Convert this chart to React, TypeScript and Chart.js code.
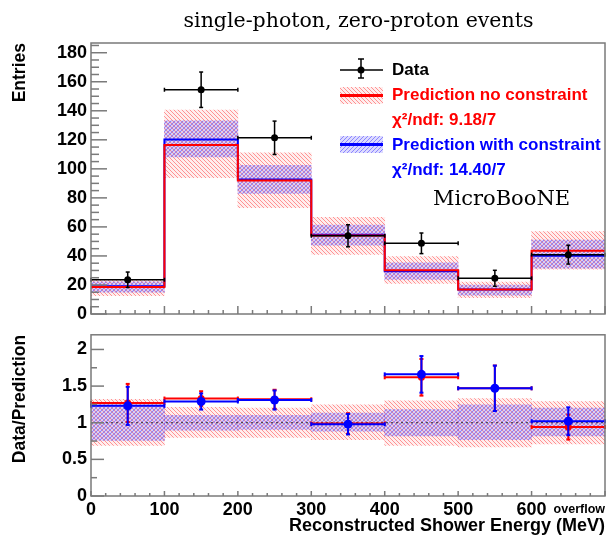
import React, { useEffect, useRef } from 'react';
import { Chart, registerables } from 'chart.js';
Chart.register(...registerables);

// ---------- data ----------
const binEdges = [0, 100, 200, 300, 400, 500, 600, 700];
const binCenters = [50, 150, 250, 350, 450, 550, 650];
const dataEntries = [23.6, 154.5, 121.4, 53.9, 48.7, 24.6, 40.9];
const dataErr = [5.3, 12.2, 11.5, 7.6, 7.1, 5.5, 6.5];
const predNoConstraint = [18.6, 116.5, 92.0, 54.0, 30.1, 16.9, 43.5];
const predWithConstraint = [19.2, 120.3, 92.7, 54.6, 29.4, 16.8, 40.2];
const noConstraintLow = [12.6, 93.9, 73.2, 41.0, 21.1, 11.2, 30.8];
const noConstraintHigh = [23.4, 140.5, 111.0, 66.6, 39.5, 22.0, 56.7];
const withConstraintLow = [15.0, 108.3, 83.1, 47.5, 23.9, 13.0, 31.5];
const withConstraintHigh = [22.2, 133.0, 102.4, 61.3, 35.3, 20.0, 51.0];

const ratioNoConstraint = [1.27, 1.33, 1.32, 0.99, 1.62, 1.47, 0.94];
const ratioNoConstraintErr = [0.26, 0.10, 0.13, 0.14, 0.25, 0.31, 0.17];
const ratioWithConstraint = [1.23, 1.29, 1.31, 0.98, 1.66, 1.47, 1.02];
const ratioWithConstraintErr = [0.26, 0.11, 0.13, 0.14, 0.25, 0.31, 0.19];
const ratioBandNoLow = [0.69, 0.80, 0.80, 0.77, 0.69, 0.67, 0.71];
const ratioBandNoHigh = [1.32, 1.21, 1.20, 1.245, 1.30, 1.33, 1.29];
const ratioBandWithLow = [0.76, 0.90, 0.91, 0.885, 0.82, 0.77, 0.82];
const ratioBandWithHigh = [1.245, 1.10, 1.10, 1.13, 1.18, 1.245, 1.20];

const titleText = 'single-photon, zero-proton events';
const legendData = 'Data';
const legendNo = 'Prediction no constraint';
const legendNoChi = 'χ²/ndf: 9.18/7';
const legendWith = 'Prediction with constraint';
const legendWithChi = 'χ²/ndf: 14.40/7';
const experimentLabel = 'MicroBooNE';
const xTitle = 'Reconstructed Shower Energy (MeV)';
const overflowLabel = 'overflow';

const SANS = '"Liberation Sans", Arial, sans-serif';
const SERIF = '"DejaVu Serif", serif';
const FRAME = '#7a7a7a';

function makeHatch(ctx: CanvasRenderingContext2D, base: string, lineColor: string, dir: number) {
  const c = document.createElement('canvas');
  c.width = 4; c.height = 4;
  const g = c.getContext('2d')!;
  g.fillStyle = base;
  g.fillRect(0, 0, 4, 4);
  g.fillStyle = lineColor;
  for (let i = 0; i < 4; i++) g.fillRect(dir === 1 ? i : 3 - i, i, 1, 1);
  return ctx.createPattern(c, 'repeat')!;
}

function stepPoints(vals: number[]) {
  const pts = vals.map((v, i) => ({ x: binEdges[i], y: v }));
  pts.push({ x: binEdges[binEdges.length - 1], y: vals[vals.length - 1] });
  return pts;
}

function bandPoints(lo: number[], hi: number[]) {
  return binCenters.map((c, i) => ({ x: c, y: [lo[i], hi[i]] }));
}

function line(ctx: CanvasRenderingContext2D, x1: number, y1: number, x2: number, y2: number) {
  ctx.beginPath(); ctx.moveTo(x1, y1); ctx.lineTo(x2, y2); ctx.stroke();
}

function makeErrorBarPlugin(refLine?: { value: number; beforeIndex: number }) {
  return {
    id: 'errorBars',
    beforeDatasetDraw(chart: any, args: any) {
      const ds = chart.data.datasets[args.index];
      if (refLine && refLine.beforeIndex === args.index) {
        const { ctx, chartArea: a } = chart;
        const y = chart.scales.y.getPixelForValue(refLine.value);
        ctx.save();
        ctx.strokeStyle = '#333'; ctx.lineWidth = 1; ctx.setLineDash([2, 3]);
        line(ctx, a.left, y, a.right, y);
        ctx.restore();
      }
      if (!ds.errY) return;
      const { ctx } = chart;
      const xs = chart.scales.x, ys = chart.scales.y;
      ctx.save();
      ctx.strokeStyle = ds.errColor; ctx.lineWidth = ds.errWidth;
      ds.data.forEach((p: any, i: number) => {
        const px = xs.getPixelForValue(p.x);
        const py = ys.getPixelForValue(p.y);
        const x1 = xs.getPixelForValue(p.x - ds.errX);
        const x2 = xs.getPixelForValue(p.x + ds.errX);
        const y1 = ys.getPixelForValue(p.y + ds.errY[i]);
        const y2 = ys.getPixelForValue(p.y - ds.errY[i]);
        line(ctx, x1, py, x2, py);
        line(ctx, px, y1, px, y2);
        const c = 2;
        line(ctx, px - c, y1, px + c, y1);
        line(ctx, px - c, y2, px + c, y2);
        line(ctx, x1, py - c, x1, py + c);
        line(ctx, x2, py - c, x2, py + c);
      });
      ctx.restore();
    },
  };
}

function makeFramePlugin(o: any) {
  return {
    id: 'rootFrame',
    afterDraw(chart: any) {
      const { ctx, chartArea: a } = chart;
      const xs = chart.scales.x, ys = chart.scales.y;
      ctx.save();
      ctx.strokeStyle = FRAME; ctx.lineWidth = 1.5;
      for (let k = 0; xs.min + k * o.xMinor <= xs.max + 1e-9; k++) {
        const v = xs.min + k * o.xMinor;
        const major = Math.abs(v / o.xMajor - Math.round(v / o.xMajor)) < 1e-6;
        const px = xs.getPixelForValue(v);
        line(ctx, px, a.bottom, px, a.bottom - (major ? o.xMajorLen : o.xMinorLen));
      }
      for (let k = 0; ys.min + k * o.yMinor <= ys.max + 1e-9; k++) {
        const v = ys.min + k * o.yMinor;
        const major = Math.abs(v / o.yMajor - Math.round(v / o.yMajor)) < 1e-6;
        const py = ys.getPixelForValue(v);
        line(ctx, a.left, py, a.left + (major ? o.yMajorLen : o.yMinorLen), py);
      }
      ctx.strokeRect(a.left, a.top, a.right - a.left, a.bottom - a.top);
      ctx.restore();
    },
  };
}

function makeTopTextPlugin(red: CanvasPattern, blue: CanvasPattern) {
  return {
    id: 'topText',
    afterDraw(chart: any) {
      const { ctx } = chart;
      ctx.save();
      ctx.fillStyle = '#000';
      ctx.font = `20.5px ${SERIF}`;
      ctx.textAlign = 'center'; ctx.textBaseline = 'alphabetic';
      ctx.fillText(titleText, 358.5, 26.5);
      // legend: data
      ctx.strokeStyle = '#000'; ctx.lineWidth = 1.5;
      line(ctx, 340, 70, 383, 70);
      line(ctx, 361, 59, 361, 78);
      line(ctx, 358, 59, 364, 59);
      line(ctx, 358, 78, 364, 78);
      ctx.fillStyle = '#000';
      ctx.beginPath(); ctx.arc(361, 70, 3.5, 0, Math.PI * 2); ctx.fill();
      // legend: red
      ctx.fillStyle = red; ctx.fillRect(340, 87, 43, 17);
      ctx.strokeStyle = '#ff0000'; ctx.lineWidth = 3;
      line(ctx, 340, 95.5, 383, 95.5);
      // legend: blue
      ctx.fillStyle = blue; ctx.fillRect(340, 136, 43, 17);
      ctx.strokeStyle = '#0000ff'; ctx.lineWidth = 3;
      line(ctx, 340, 144.5, 383, 144.5);
      // texts
      ctx.font = `bold 17px ${SANS}`;
      ctx.textAlign = 'left'; ctx.textBaseline = 'middle';
      ctx.fillStyle = '#000'; ctx.fillText(legendData, 392, 70);
      ctx.fillStyle = '#ff0000'; ctx.fillText(legendNo, 392, 95);
      ctx.fillText(legendNoChi, 392, 120);
      ctx.fillStyle = '#0000ff'; ctx.fillText(legendWith, 392, 145);
      ctx.fillText(legendWithChi, 392, 170);
      ctx.fillStyle = '#000';
      ctx.font = `21px ${SERIF}`;
      ctx.textBaseline = 'alphabetic';
      ctx.fillText(experimentLabel, 433, 205);
      ctx.restore();
    },
  };
}

const bottomTextPlugin = {
  id: 'bottomText',
  afterDraw(chart: any) {
    const { ctx, chartArea: a } = chart;
    ctx.save();
    ctx.fillStyle = '#000';
    ctx.font = `bold 12.5px ${SANS}`;
    ctx.textAlign = 'right'; ctx.textBaseline = 'alphabetic';
    ctx.fillText(overflowLabel, a.right, a.bottom + 17);
    ctx.restore();
  },
};

const tickFont = { family: SANS, weight: 'bold' as const, size: 18 };
const titleFont = { family: SANS, weight: 'bold' as const, size: 17.5 };

const RED_BASE = 'rgba(255,90,90,0.1)';
const RED_LINE = 'rgba(255,70,70,0.55)';
const BLUE_BASE = 'rgba(80,70,255,0.2)';
const BLUE_LINE = 'rgba(60,50,255,0.5)';

export default function App() {
  const topRef = useRef<HTMLCanvasElement>(null);
  const botRef = useRef<HTMLCanvasElement>(null);

  useEffect(() => {
    const tctx = topRef.current!.getContext('2d')!;
    const bctx = botRef.current!.getContext('2d')!;
    const redT = makeHatch(tctx, RED_BASE, RED_LINE, 1);
    const blueT = makeHatch(tctx, BLUE_BASE, BLUE_LINE, -1);
    const redB = makeHatch(bctx, RED_BASE, RED_LINE, 1);
    const blueB = makeHatch(bctx, BLUE_BASE, BLUE_LINE, -1);

    const commonBar = { barPercentage: 1, categoryPercentage: 1, grouped: false, borderWidth: 0 };

    const top = new Chart(topRef.current!, {
      type: 'bar',
      data: {
        datasets: [
          { type: 'bar', data: bandPoints(noConstraintLow, noConstraintHigh) as any, backgroundColor: redT, order: 5, ...commonBar },
          { type: 'bar', data: bandPoints(withConstraintLow, withConstraintHigh) as any, backgroundColor: blueT, order: 4, ...commonBar },
          { type: 'line', data: stepPoints(predWithConstraint) as any, stepped: true, borderColor: '#0000ff', borderWidth: 2, pointRadius: 0, fill: false, order: 3 },
          { type: 'line', data: stepPoints(predNoConstraint) as any, stepped: true, borderColor: '#ff0000', borderWidth: 2, pointRadius: 0, fill: false, order: 2 },
          {
            type: 'scatter', data: binCenters.map((c, i) => ({ x: c, y: dataEntries[i] })) as any,
            pointRadius: 3.5, pointBackgroundColor: '#000', pointBorderWidth: 0, order: 1,
            errY: dataErr, errX: 50, errColor: '#000', errWidth: 1.5,
          } as any,
        ],
      },
      options: {
        animation: false, responsive: false, events: [],
        layout: { padding: { left: 0, top: 43, right: 5, bottom: 0 } },
        plugins: { legend: { display: false }, tooltip: { enabled: false } },
        scales: {
          x: {
            type: 'linear', min: 0, max: 700, offset: false,
            grid: { display: false, drawTicks: false }, border: { display: false },
            ticks: { display: false, stepSize: 100 },
            afterFit: (s: any) => { s.height = 16; },
          },
          y: {
            type: 'linear', min: 0, max: 186.7,
            grid: { display: false, drawTicks: false }, border: { display: false },
            ticks: { stepSize: 20, includeBounds: false, font: tickFont, color: '#000', padding: 4 },
            title: { display: true, text: 'Entries', align: 'end', font: titleFont, color: '#000', padding: { top: 10, bottom: 0 } },
            afterFit: (s: any) => { s.width = 91; },
          },
        },
      } as any,
      plugins: [
        makeErrorBarPlugin(),
        makeFramePlugin({ xMinor: 20, xMajor: 100, xMajorLen: 8, xMinorLen: 4, yMinor: 5, yMajor: 20, yMajorLen: 16, yMinorLen: 8 }),
        makeTopTextPlugin(redT, blueT),
      ] as any,
    });

    const bot = new Chart(botRef.current!, {
      type: 'bar',
      data: {
        datasets: [
          { type: 'bar', data: bandPoints(ratioBandNoLow, ratioBandNoHigh) as any, backgroundColor: redB, order: 5, ...commonBar },
          { type: 'bar', data: bandPoints(ratioBandWithLow, ratioBandWithHigh) as any, backgroundColor: blueB, order: 4, ...commonBar },
          {
            type: 'scatter', data: binCenters.map((c, i) => ({ x: c, y: ratioNoConstraint[i] })) as any,
            pointRadius: 3.5, pointBackgroundColor: '#ff0000', pointBorderWidth: 0, order: 3,
            errY: ratioNoConstraintErr, errX: 50, errColor: '#ff0000', errWidth: 2,
          } as any,
          {
            type: 'scatter', data: binCenters.map((c, i) => ({ x: c, y: ratioWithConstraint[i] })) as any,
            pointRadius: 4.5, pointBackgroundColor: '#0000ff', pointBorderWidth: 0, order: 2,
            errY: ratioWithConstraintErr, errX: 50, errColor: '#0000ff', errWidth: 2,
          } as any,
        ],
      },
      options: {
        animation: false, responsive: false, events: [],
        layout: { padding: { left: 0, top: 13, right: 5, bottom: 0 } },
        plugins: { legend: { display: false }, tooltip: { enabled: false } },
        scales: {
          x: {
            type: 'linear', min: 0, max: 700, offset: false,
            grid: { display: false, drawTicks: false }, border: { display: false },
            ticks: { stepSize: 100, font: tickFont, color: '#000', padding: 3, maxRotation: 0, autoSkip: false,
              callback: (v: any) => (v >= 700 ? '' : String(v)) },
            title: { display: true, text: xTitle, align: 'end', font: { family: SANS, weight: 'bold', size: 18 }, color: '#000', padding: { top: 0, bottom: 0 } },
            afterFit: (s: any) => { s.height = 41; },
          },
          y: {
            type: 'linear', min: 0, max: 2.2,
            grid: { display: false, drawTicks: false }, border: { display: false },
            ticks: { stepSize: 0.5, includeBounds: false, font: tickFont, color: '#000', padding: 4,
              callback: (v: any) => String(Math.round(v * 10) / 10) },
            title: { display: true, text: 'Data/Prediction', align: 'end', font: titleFont, color: '#000', padding: { top: 10, bottom: 0 } },
            afterFit: (s: any) => { s.width = 91; },
          },
        },
      } as any,
      plugins: [
        makeErrorBarPlugin({ value: 1, beforeIndex: 2 }),
        makeFramePlugin({ xMinor: 20, xMajor: 100, xMajorLen: 5, xMinorLen: 3, yMinor: 0.25, yMajor: 0.5, yMajorLen: 13, yMinorLen: 6 }),
        bottomTextPlugin,
      ] as any,
    });

    return () => { top.destroy(); bot.destroy(); };
  }, []);

  return (
    <div style={{ position: 'fixed', left: 0, top: 0, width: 610, height: 537, background: '#fff' }}>
      <canvas ref={topRef} width={610} height={330} style={{ position: 'absolute', left: 0, top: 0, width: 610, height: 330 }} />
      <canvas ref={botRef} width={610} height={217} style={{ position: 'absolute', left: 0, top: 320, width: 610, height: 217 }} />
    </div>
  );
}
